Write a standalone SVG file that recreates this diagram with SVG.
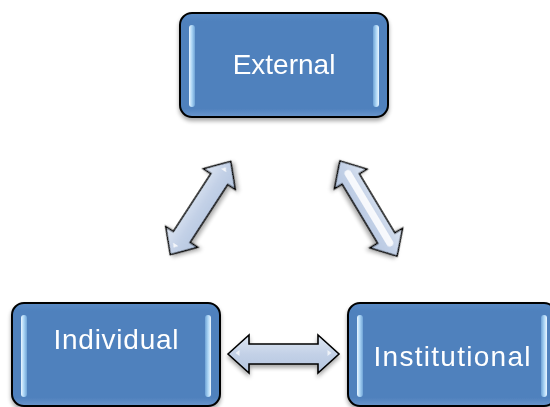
<svg xmlns="http://www.w3.org/2000/svg" width="550" height="407" viewBox="0 0 550 407">
<style>
.box{fill:url(#boxg);stroke:#000;stroke-width:2}
.hl{fill:url(#hlg)}
.lbl{font-family:"Liberation Sans",Arial,sans-serif;font-size:28px;fill:#fff;text-anchor:middle}
.arr{fill:url(#arrg);stroke:#000;stroke-width:1.6;stroke-linejoin:miter}
</style>
<defs>
<linearGradient id="boxg" x1="0" y1="0" x2="0" y2="1">
<stop offset="0" stop-color="#5a8bc6"/>
<stop offset="0.08" stop-color="#4f81bd"/>
<stop offset="0.92" stop-color="#4f81bd"/>
<stop offset="1" stop-color="#6a96cc"/>
</linearGradient>
<linearGradient id="hlg" x1="0" y1="0" x2="1" y2="0">
<stop offset="0" stop-color="#eaf6ff"/>
<stop offset="0.5" stop-color="#a9d4f5"/>
<stop offset="1" stop-color="#6fa3d6"/>
</linearGradient>
<linearGradient id="hlr" x1="1" y1="0" x2="0" y2="0">
<stop offset="0" stop-color="#eaf6ff"/>
<stop offset="0.5" stop-color="#a9d4f5"/>
<stop offset="1" stop-color="#6fa3d6"/>
</linearGradient>
<linearGradient id="arrg" x1="0" y1="0" x2="0" y2="1">
<stop offset="0" stop-color="#dfe7f3"/>
<stop offset="0.5" stop-color="#c3d1e7"/>
<stop offset="1" stop-color="#b4c5df"/>
</linearGradient>
<filter id="sh" x="-10%" y="-10%" width="120%" height="130%">
<feGaussianBlur in="SourceAlpha" stdDeviation="2"/>
<feOffset dy="3"/>
<feComponentTransfer><feFuncA type="linear" slope="0.35"/></feComponentTransfer>
<feMerge><feMergeNode/><feMergeNode in="SourceGraphic"/></feMerge>
</filter>
<path id="arrow" d="M -55.5,0 L -34.5,-19 L -34.5,-10 L 34.5,-10 L 34.5,-19 L 55.5,0 L 34.5,19 L 34.5,10 L -34.5,10 L -34.5,19 Z"/>
</defs>
<rect width="550" height="407" fill="#fff"/>

<g id="connectors">
<g id="arrow-left" transform="translate(200.5,208) rotate(-57)" filter="url(#sh)">
<use href="#arrow" class="arr"/>
<path d="M 44,-4 l 4,3 l -4,3 z M -44,-4 l -4,3 l 4,3 z" fill="#fff" opacity="0.8"/>
</g>
<g id="arrow-right" transform="translate(368.5,208.5) rotate(59)" filter="url(#sh)">
<use href="#arrow" class="arr"/>
<rect x="-44" y="-4" width="88" height="7" rx="3.5" fill="#fff" opacity="0.85"/>
</g>
<g id="arrow-bottom" transform="translate(283.5,354)" filter="url(#sh)">
<use href="#arrow" class="arr"/>
<path d="M 44,-4 l 4,3 l -4,3 z M -44,-4 l -4,3 l 4,3 z" fill="#fff" opacity="0.7"/>
</g>
</g>

<g id="external" filter="url(#sh)">
<rect class="box" x="180" y="13" width="208" height="104" rx="12"/>
<rect class="hl" x="189" y="25" width="6" height="82" rx="3"/>
<rect x="373" y="25" width="6" height="82" rx="3" fill="url(#hlr)"/>
<text class="lbl" x="284" y="74">External</text>
</g>

<g id="individual" filter="url(#sh)">
<rect class="box" x="12" y="303" width="208" height="103" rx="12"/>
<rect class="hl" x="21" y="315" width="6" height="82" rx="3"/>
<rect x="205" y="315" width="6" height="82" rx="3" fill="url(#hlr)"/>
<text class="lbl" x="116" y="349" textLength="125">Individual</text>
</g>

<g id="institutional" filter="url(#sh)">
<rect class="box" x="348" y="303" width="208" height="103" rx="12"/>
<rect class="hl" x="357" y="315" width="6" height="82" rx="3"/>
<rect x="541" y="315" width="6" height="82" rx="3" fill="url(#hlr)"/>
<text class="lbl" x="452" y="366" textLength="157">Institutional</text>
</g>
</svg>
